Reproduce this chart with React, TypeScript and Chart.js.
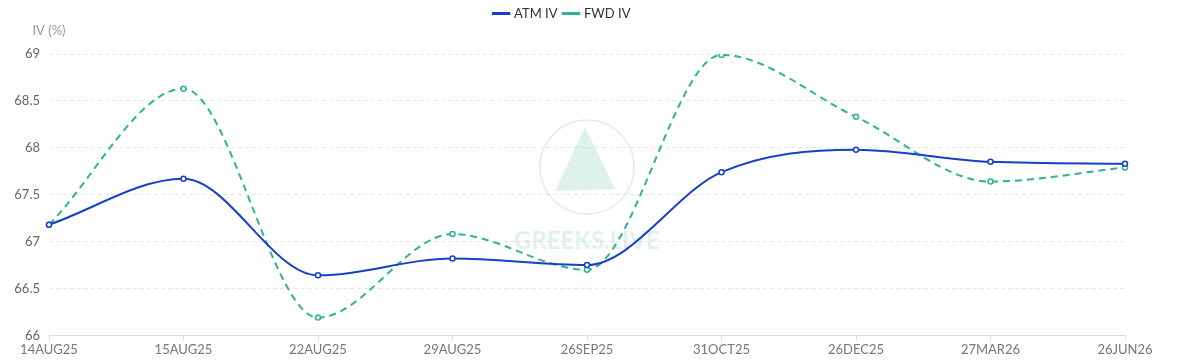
import React, { useEffect, useRef } from "react";
import { Chart, registerables } from "chart.js";

Chart.register(...registerables);

const categories = ["14AUG25", "15AUG25", "22AUG25", "29AUG25", "26SEP25", "31OCT25", "26DEC25", "27MAR26", "26JUN26"];
const atmIV = [67.18, 67.67, 66.64, 66.82, 66.75, 67.74, 67.98, 67.85, 67.83];
const fwdIV = [67.18, 68.63, 66.19, 67.08, 66.7, 68.99, 68.33, 67.64, 67.79];
const yTicks = [66, 66.5, 67, 67.5, 68, 68.5, 69];

const FONT = "Lato, 'Noto Sans', sans-serif";

const extras = {
  id: "extras",
  beforeInit(chart: any) {
    const orig = chart.legend.fit;
    chart.legend.fit = function () {
      orig.call(this);
      this.height += 24;
    };
  },
  beforeDatasetsDraw(chart: any) {
    const { ctx, chartArea } = chart;
    const cx = (chartArea.left + chartArea.right) / 2;
    const cy = 167;
    ctx.save();
    ctx.strokeStyle = "rgba(170,200,190,0.35)";
    ctx.lineWidth = 1.5;
    ctx.beginPath();
    ctx.arc(cx, cy, 47, 0, Math.PI * 2);
    ctx.stroke();
    ctx.fillStyle = "rgba(160,215,200,0.35)";
    ctx.beginPath();
    ctx.moveTo(cx - 2, cy - 40);
    ctx.lineTo(cx + 28, cy + 22);
    ctx.lineTo(cx - 32, cy + 24);
    ctx.closePath();
    ctx.fill();
    ctx.font = "bold 24px " + FONT;
    ctx.fillStyle = "rgba(170,215,200,0.35)";
    ctx.textAlign = "center";
    ctx.textBaseline = "middle";
    ctx.fillText("GREEKS.LIVE", cx, 241);
    ctx.restore();
  },
  afterDraw(chart: any) {
    const { ctx, chartArea } = chart;
    ctx.save();
    ctx.font = "13px " + FONT;
    ctx.fillStyle = "#999";
    ctx.textAlign = "center";
    ctx.textBaseline = "middle";
    ctx.fillText("IV (%)", chartArea.left, 31);
    ctx.restore();
  },
};

export default function App() {
  const ref = useRef<HTMLCanvasElement | null>(null);
  useEffect(() => {
    document.body.style.margin = "0";
    const chart = new Chart(ref.current as HTMLCanvasElement, {
      type: "line",
      data: {
        labels: categories,
        datasets: [
          {
            label: "ATM IV",
            data: atmIV,
            borderColor: "#1740c4",
            backgroundColor: "#ffffff",
            borderWidth: 2,
            cubicInterpolationMode: "monotone",
            pointRadius: 2.5,
            pointBorderWidth: 1.5,
            pointBorderColor: "#1740c4",
            pointBackgroundColor: "#ffffff",
          },
          {
            label: "FWD IV",
            data: fwdIV,
            borderColor: "#2fb394",
            backgroundColor: "#ffffff",
            borderWidth: 2,
            borderDash: [7, 5],
            cubicInterpolationMode: "monotone",
            pointRadius: 2.5,
            pointBorderWidth: 1.5,
            pointBorderColor: "#2fb394",
            pointBackgroundColor: "#ffffff",
          },
        ],
      },
      plugins: [extras],
      options: {
        animation: false,
        responsive: false,
        layout: { padding: { top: 0, right: 73, left: 0, bottom: 4 } },
        plugins: {
          legend: {
            position: "top",
            labels: {
              usePointStyle: true,
              pointStyle: "line",
              boxWidth: 16,
              padding: 7,
              color: "#333",
              font: { family: FONT, size: 13 },
              generateLabels: (chart: any) =>
                chart.data.datasets.map((ds: any, i: number) => ({
                  text: ds.label,
                  strokeStyle: ds.borderColor,
                  fillStyle: ds.borderColor,
                  lineWidth: 3,
                  lineDash: [],
                  pointStyle: "line",
                  datasetIndex: i,
                  fontColor: "#333",
                })),
            },
          },
          tooltip: { enabled: false },
        },
        scales: {
          x: {
            offset: false,
            grid: { drawOnChartArea: false, drawTicks: true, tickLength: 5, color: "#ddd" },
            border: { color: "#ddd" },
            ticks: { color: "#777", font: { family: FONT, size: 13 }, padding: 2, maxRotation: 0, autoSkip: false },
          },
          y: {
            min: 66,
            max: 69,
            afterFit: (scale: any) => {
              scale.width = 49;
            },
            afterBuildTicks: (scale: any) => {
              scale.ticks = yTicks.map((v) => ({ value: v }));
            },
            grid: { drawTicks: false, color: "#e6e6e6" },
            border: { display: false, dash: [4, 3] },
            ticks: {
              color: "#666",
              font: { family: FONT, size: 13 },
              padding: 9,
              callback: (v: any) => String(Number(v)),
            },
          },
        },
      },
    });
    return () => chart.destroy();
  }, []);
  return (
    <div style={{ width: 1198, height: 364 }}>
      <canvas ref={ref} width={1198} height={364} />
    </div>
  );
}
